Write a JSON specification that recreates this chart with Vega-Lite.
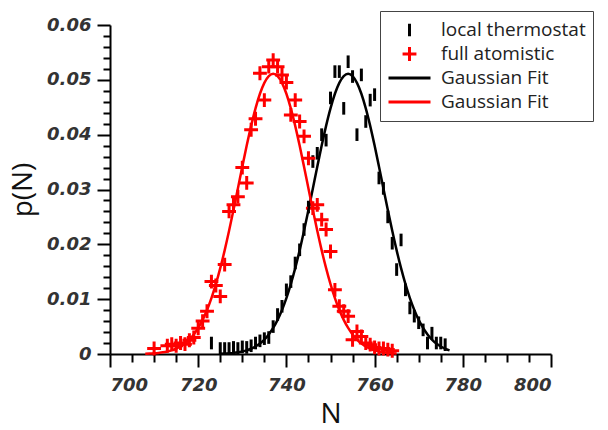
{
  "$schema": "https://vega.github.io/schema/vega-lite/v6.json",
  "width": 441,
  "height": 329,
  "autosize": {"type": "none"},
  "padding": {"left": 110, "top": 25, "right": 57, "bottom": 76},
  "background": "white",
  "config": {
    "view": {"stroke": null},
    "axis": {"grid": false, "domainColor": "black", "domainWidth": 2, "tickColor": "black", "tickWidth": 2, "labelFont": "DejaVu Sans", "labelFontStyle": "italic", "labelFontWeight": "bold", "labelFontSize": 18, "labelColor": "#333333", "titleFont": "Open Sans", "titleFontWeight": "normal", "titleFontSize": 28, "titleColor": "#111111"},
    "legend": {"orient": "none", "legendX": 270, "legendY": -14, "padding": 7, "strokeColor": "#444444", "fillColor": "white", "symbolSize": 1764, "symbolStrokeWidth": 3, "symbolOffset": 0, "labelOffset": 9, "rowPadding": 0, "clipHeight": 24, "labelFont": "Open Sans", "labelFontSize": 19, "labelColor": "#222222", "title": null}
  },
  "datasets": {
    "pts": [
      {"N": 723, "p": 0.0020, "series": "local thermostat"},
      {"N": 725, "p": 0.0010, "series": "local thermostat"},
      {"N": 726, "p": 0.0010, "series": "local thermostat"},
      {"N": 727, "p": 0.0010, "series": "local thermostat"},
      {"N": 728, "p": 0.0012, "series": "local thermostat"},
      {"N": 729, "p": 0.0010, "series": "local thermostat"},
      {"N": 730, "p": 0.0013, "series": "local thermostat"},
      {"N": 731, "p": 0.0012, "series": "local thermostat"},
      {"N": 732, "p": 0.0015, "series": "local thermostat"},
      {"N": 733, "p": 0.0020, "series": "local thermostat"},
      {"N": 734, "p": 0.0024, "series": "local thermostat"},
      {"N": 735, "p": 0.0028, "series": "local thermostat"},
      {"N": 736, "p": 0.0030, "series": "local thermostat"},
      {"N": 737, "p": 0.0050, "series": "local thermostat"},
      {"N": 738, "p": 0.0072, "series": "local thermostat"},
      {"N": 739, "p": 0.0087, "series": "local thermostat"},
      {"N": 740, "p": 0.0117, "series": "local thermostat"},
      {"N": 741, "p": 0.0132, "series": "local thermostat"},
      {"N": 742, "p": 0.0166, "series": "local thermostat"},
      {"N": 743, "p": 0.0190, "series": "local thermostat"},
      {"N": 744, "p": 0.0227, "series": "local thermostat"},
      {"N": 745, "p": 0.0268, "series": "local thermostat"},
      {"N": 746, "p": 0.0351, "series": "local thermostat"},
      {"N": 747, "p": 0.0366, "series": "local thermostat"},
      {"N": 748, "p": 0.0400, "series": "local thermostat"},
      {"N": 749, "p": 0.0390, "series": "local thermostat"},
      {"N": 750, "p": 0.0467, "series": "local thermostat"},
      {"N": 751, "p": 0.0515, "series": "local thermostat"},
      {"N": 752, "p": 0.0515, "series": "local thermostat"},
      {"N": 753, "p": 0.0448, "series": "local thermostat"},
      {"N": 754, "p": 0.0533, "series": "local thermostat"},
      {"N": 755, "p": 0.0506, "series": "local thermostat"},
      {"N": 756, "p": 0.0400, "series": "local thermostat"},
      {"N": 757, "p": 0.0509, "series": "local thermostat"},
      {"N": 758, "p": 0.0424, "series": "local thermostat"},
      {"N": 759, "p": 0.0463, "series": "local thermostat"},
      {"N": 760, "p": 0.0473, "series": "local thermostat"},
      {"N": 761, "p": 0.0321, "series": "local thermostat"},
      {"N": 762, "p": 0.0302, "series": "local thermostat"},
      {"N": 763, "p": 0.0250, "series": "local thermostat"},
      {"N": 764, "p": 0.0202, "series": "local thermostat"},
      {"N": 765, "p": 0.0154, "series": "local thermostat"},
      {"N": 766, "p": 0.0208, "series": "local thermostat"},
      {"N": 767, "p": 0.0117, "series": "local thermostat"},
      {"N": 768, "p": 0.0084, "series": "local thermostat"},
      {"N": 769, "p": 0.0069, "series": "local thermostat"},
      {"N": 770, "p": 0.0057, "series": "local thermostat"},
      {"N": 771, "p": 0.0044, "series": "local thermostat"},
      {"N": 772, "p": 0.0020, "series": "local thermostat"},
      {"N": 773, "p": 0.0038, "series": "local thermostat"},
      {"N": 774, "p": 0.0020, "series": "local thermostat"},
      {"N": 775, "p": 0.0020, "series": "local thermostat"},
      {"N": 776, "p": 0.0017, "series": "local thermostat"},
      {"N": 710, "p": 0.0010, "series": "full atomistic"},
      {"N": 713, "p": 0.0015, "series": "full atomistic"},
      {"N": 714, "p": 0.0018, "series": "full atomistic"},
      {"N": 715, "p": 0.0015, "series": "full atomistic"},
      {"N": 716, "p": 0.0020, "series": "full atomistic"},
      {"N": 717, "p": 0.0018, "series": "full atomistic"},
      {"N": 718, "p": 0.0025, "series": "full atomistic"},
      {"N": 719, "p": 0.0030, "series": "full atomistic"},
      {"N": 720, "p": 0.0047, "series": "full atomistic"},
      {"N": 721, "p": 0.0060, "series": "full atomistic"},
      {"N": 722, "p": 0.0078, "series": "full atomistic"},
      {"N": 723, "p": 0.0132, "series": "full atomistic"},
      {"N": 724, "p": 0.0125, "series": "full atomistic"},
      {"N": 725, "p": 0.0105, "series": "full atomistic"},
      {"N": 726, "p": 0.0163, "series": "full atomistic"},
      {"N": 727, "p": 0.0260, "series": "full atomistic"},
      {"N": 728, "p": 0.0272, "series": "full atomistic"},
      {"N": 729, "p": 0.0287, "series": "full atomistic"},
      {"N": 730, "p": 0.0340, "series": "full atomistic"},
      {"N": 731, "p": 0.0312, "series": "full atomistic"},
      {"N": 732, "p": 0.0409, "series": "full atomistic"},
      {"N": 733, "p": 0.0429, "series": "full atomistic"},
      {"N": 734, "p": 0.0512, "series": "full atomistic"},
      {"N": 735, "p": 0.0463, "series": "full atomistic"},
      {"N": 736, "p": 0.0524, "series": "full atomistic"},
      {"N": 737, "p": 0.0536, "series": "full atomistic"},
      {"N": 738, "p": 0.0524, "series": "full atomistic"},
      {"N": 739, "p": 0.0509, "series": "full atomistic"},
      {"N": 740, "p": 0.0495, "series": "full atomistic"},
      {"N": 741, "p": 0.0436, "series": "full atomistic"},
      {"N": 742, "p": 0.0463, "series": "full atomistic"},
      {"N": 743, "p": 0.0424, "series": "full atomistic"},
      {"N": 744, "p": 0.0397, "series": "full atomistic"},
      {"N": 745, "p": 0.0357, "series": "full atomistic"},
      {"N": 746, "p": 0.0266, "series": "full atomistic"},
      {"N": 747, "p": 0.0272, "series": "full atomistic"},
      {"N": 748, "p": 0.0245, "series": "full atomistic"},
      {"N": 749, "p": 0.0227, "series": "full atomistic"},
      {"N": 750, "p": 0.0187, "series": "full atomistic"},
      {"N": 751, "p": 0.0117, "series": "full atomistic"},
      {"N": 752, "p": 0.0087, "series": "full atomistic"},
      {"N": 753, "p": 0.0078, "series": "full atomistic"},
      {"N": 754, "p": 0.0069, "series": "full atomistic"},
      {"N": 755, "p": 0.0026, "series": "full atomistic"},
      {"N": 756, "p": 0.0041, "series": "full atomistic"},
      {"N": 757, "p": 0.0032, "series": "full atomistic"},
      {"N": 758, "p": 0.0020, "series": "full atomistic"},
      {"N": 759, "p": 0.0017, "series": "full atomistic"},
      {"N": 760, "p": 0.0012, "series": "full atomistic"},
      {"N": 761, "p": 0.0010, "series": "full atomistic"},
      {"N": 762, "p": 0.0010, "series": "full atomistic"},
      {"N": 763, "p": 0.0008, "series": "full atomistic"},
      {"N": 764, "p": 0.0006, "series": "full atomistic"}
    ],
    "fit": [
      {"N": 725, "p": 0.00005, "series": "Gaussian Fit (local thermostat)"},
      {"N": 726, "p": 0.00008, "series": "Gaussian Fit (local thermostat)"},
      {"N": 727, "p": 0.00013, "series": "Gaussian Fit (local thermostat)"},
      {"N": 728, "p": 0.00020, "series": "Gaussian Fit (local thermostat)"},
      {"N": 729, "p": 0.00030, "series": "Gaussian Fit (local thermostat)"},
      {"N": 730, "p": 0.00045, "series": "Gaussian Fit (local thermostat)"},
      {"N": 731, "p": 0.00066, "series": "Gaussian Fit (local thermostat)"},
      {"N": 732, "p": 0.00096, "series": "Gaussian Fit (local thermostat)"},
      {"N": 733, "p": 0.00136, "series": "Gaussian Fit (local thermostat)"},
      {"N": 734, "p": 0.00191, "series": "Gaussian Fit (local thermostat)"},
      {"N": 735, "p": 0.00263, "series": "Gaussian Fit (local thermostat)"},
      {"N": 736, "p": 0.00357, "series": "Gaussian Fit (local thermostat)"},
      {"N": 737, "p": 0.00475, "series": "Gaussian Fit (local thermostat)"},
      {"N": 738, "p": 0.00623, "series": "Gaussian Fit (local thermostat)"},
      {"N": 739, "p": 0.00804, "series": "Gaussian Fit (local thermostat)"},
      {"N": 740, "p": 0.01020, "series": "Gaussian Fit (local thermostat)"},
      {"N": 741, "p": 0.01274, "series": "Gaussian Fit (local thermostat)"},
      {"N": 742, "p": 0.01565, "series": "Gaussian Fit (local thermostat)"},
      {"N": 743, "p": 0.01890, "series": "Gaussian Fit (local thermostat)"},
      {"N": 744, "p": 0.02246, "series": "Gaussian Fit (local thermostat)"},
      {"N": 745, "p": 0.02626, "series": "Gaussian Fit (local thermostat)"},
      {"N": 746, "p": 0.03020, "series": "Gaussian Fit (local thermostat)"},
      {"N": 747, "p": 0.03416, "series": "Gaussian Fit (local thermostat)"},
      {"N": 748, "p": 0.03801, "series": "Gaussian Fit (local thermostat)"},
      {"N": 749, "p": 0.04161, "series": "Gaussian Fit (local thermostat)"},
      {"N": 750, "p": 0.04480, "series": "Gaussian Fit (local thermostat)"},
      {"N": 751, "p": 0.04746, "series": "Gaussian Fit (local thermostat)"},
      {"N": 752, "p": 0.04945, "series": "Gaussian Fit (local thermostat)"},
      {"N": 753, "p": 0.05068, "series": "Gaussian Fit (local thermostat)"},
      {"N": 754, "p": 0.05110, "series": "Gaussian Fit (local thermostat)"},
      {"N": 755, "p": 0.05068, "series": "Gaussian Fit (local thermostat)"},
      {"N": 756, "p": 0.04945, "series": "Gaussian Fit (local thermostat)"},
      {"N": 757, "p": 0.04746, "series": "Gaussian Fit (local thermostat)"},
      {"N": 758, "p": 0.04480, "series": "Gaussian Fit (local thermostat)"},
      {"N": 759, "p": 0.04161, "series": "Gaussian Fit (local thermostat)"},
      {"N": 760, "p": 0.03801, "series": "Gaussian Fit (local thermostat)"},
      {"N": 761, "p": 0.03416, "series": "Gaussian Fit (local thermostat)"},
      {"N": 762, "p": 0.03020, "series": "Gaussian Fit (local thermostat)"},
      {"N": 763, "p": 0.02626, "series": "Gaussian Fit (local thermostat)"},
      {"N": 764, "p": 0.02246, "series": "Gaussian Fit (local thermostat)"},
      {"N": 765, "p": 0.01890, "series": "Gaussian Fit (local thermostat)"},
      {"N": 766, "p": 0.01565, "series": "Gaussian Fit (local thermostat)"},
      {"N": 767, "p": 0.01274, "series": "Gaussian Fit (local thermostat)"},
      {"N": 768, "p": 0.01020, "series": "Gaussian Fit (local thermostat)"},
      {"N": 769, "p": 0.00804, "series": "Gaussian Fit (local thermostat)"},
      {"N": 770, "p": 0.00623, "series": "Gaussian Fit (local thermostat)"},
      {"N": 771, "p": 0.00475, "series": "Gaussian Fit (local thermostat)"},
      {"N": 772, "p": 0.00357, "series": "Gaussian Fit (local thermostat)"},
      {"N": 773, "p": 0.00263, "series": "Gaussian Fit (local thermostat)"},
      {"N": 774, "p": 0.00191, "series": "Gaussian Fit (local thermostat)"},
      {"N": 775, "p": 0.00136, "series": "Gaussian Fit (local thermostat)"},
      {"N": 776, "p": 0.00096, "series": "Gaussian Fit (local thermostat)"},
      {"N": 777, "p": 0.00066, "series": "Gaussian Fit (local thermostat)"},
      {"N": 708, "p": 0.00005, "series": "Gaussian Fit (full atomistic)"},
      {"N": 709, "p": 0.00008, "series": "Gaussian Fit (full atomistic)"},
      {"N": 710, "p": 0.00013, "series": "Gaussian Fit (full atomistic)"},
      {"N": 711, "p": 0.00020, "series": "Gaussian Fit (full atomistic)"},
      {"N": 712, "p": 0.00030, "series": "Gaussian Fit (full atomistic)"},
      {"N": 713, "p": 0.00045, "series": "Gaussian Fit (full atomistic)"},
      {"N": 714, "p": 0.00066, "series": "Gaussian Fit (full atomistic)"},
      {"N": 715, "p": 0.00096, "series": "Gaussian Fit (full atomistic)"},
      {"N": 716, "p": 0.00136, "series": "Gaussian Fit (full atomistic)"},
      {"N": 717, "p": 0.00191, "series": "Gaussian Fit (full atomistic)"},
      {"N": 718, "p": 0.00263, "series": "Gaussian Fit (full atomistic)"},
      {"N": 719, "p": 0.00357, "series": "Gaussian Fit (full atomistic)"},
      {"N": 720, "p": 0.00475, "series": "Gaussian Fit (full atomistic)"},
      {"N": 721, "p": 0.00623, "series": "Gaussian Fit (full atomistic)"},
      {"N": 722, "p": 0.00804, "series": "Gaussian Fit (full atomistic)"},
      {"N": 723, "p": 0.01020, "series": "Gaussian Fit (full atomistic)"},
      {"N": 724, "p": 0.01274, "series": "Gaussian Fit (full atomistic)"},
      {"N": 725, "p": 0.01565, "series": "Gaussian Fit (full atomistic)"},
      {"N": 726, "p": 0.01890, "series": "Gaussian Fit (full atomistic)"},
      {"N": 727, "p": 0.02246, "series": "Gaussian Fit (full atomistic)"},
      {"N": 728, "p": 0.02626, "series": "Gaussian Fit (full atomistic)"},
      {"N": 729, "p": 0.03020, "series": "Gaussian Fit (full atomistic)"},
      {"N": 730, "p": 0.03416, "series": "Gaussian Fit (full atomistic)"},
      {"N": 731, "p": 0.03801, "series": "Gaussian Fit (full atomistic)"},
      {"N": 732, "p": 0.04161, "series": "Gaussian Fit (full atomistic)"},
      {"N": 733, "p": 0.04480, "series": "Gaussian Fit (full atomistic)"},
      {"N": 734, "p": 0.04746, "series": "Gaussian Fit (full atomistic)"},
      {"N": 735, "p": 0.04945, "series": "Gaussian Fit (full atomistic)"},
      {"N": 736, "p": 0.05068, "series": "Gaussian Fit (full atomistic)"},
      {"N": 737, "p": 0.05110, "series": "Gaussian Fit (full atomistic)"},
      {"N": 738, "p": 0.05068, "series": "Gaussian Fit (full atomistic)"},
      {"N": 739, "p": 0.04945, "series": "Gaussian Fit (full atomistic)"},
      {"N": 740, "p": 0.04746, "series": "Gaussian Fit (full atomistic)"},
      {"N": 741, "p": 0.04480, "series": "Gaussian Fit (full atomistic)"},
      {"N": 742, "p": 0.04161, "series": "Gaussian Fit (full atomistic)"},
      {"N": 743, "p": 0.03801, "series": "Gaussian Fit (full atomistic)"},
      {"N": 744, "p": 0.03416, "series": "Gaussian Fit (full atomistic)"},
      {"N": 745, "p": 0.03020, "series": "Gaussian Fit (full atomistic)"},
      {"N": 746, "p": 0.02626, "series": "Gaussian Fit (full atomistic)"},
      {"N": 747, "p": 0.02246, "series": "Gaussian Fit (full atomistic)"},
      {"N": 748, "p": 0.01890, "series": "Gaussian Fit (full atomistic)"},
      {"N": 749, "p": 0.01565, "series": "Gaussian Fit (full atomistic)"},
      {"N": 750, "p": 0.01274, "series": "Gaussian Fit (full atomistic)"},
      {"N": 751, "p": 0.01020, "series": "Gaussian Fit (full atomistic)"},
      {"N": 752, "p": 0.00804, "series": "Gaussian Fit (full atomistic)"},
      {"N": 753, "p": 0.00623, "series": "Gaussian Fit (full atomistic)"},
      {"N": 754, "p": 0.00475, "series": "Gaussian Fit (full atomistic)"},
      {"N": 755, "p": 0.00357, "series": "Gaussian Fit (full atomistic)"},
      {"N": 756, "p": 0.00263, "series": "Gaussian Fit (full atomistic)"},
      {"N": 757, "p": 0.00191, "series": "Gaussian Fit (full atomistic)"},
      {"N": 758, "p": 0.00136, "series": "Gaussian Fit (full atomistic)"},
      {"N": 759, "p": 0.00096, "series": "Gaussian Fit (full atomistic)"},
      {"N": 760, "p": 0.00066, "series": "Gaussian Fit (full atomistic)"},
      {"N": 761, "p": 0.00045, "series": "Gaussian Fit (full atomistic)"},
      {"N": 762, "p": 0.00030, "series": "Gaussian Fit (full atomistic)"},
      {"N": 763, "p": 0.00020, "series": "Gaussian Fit (full atomistic)"},
      {"N": 764, "p": 0.00013, "series": "Gaussian Fit (full atomistic)"},
      {"N": 765, "p": 0.00008, "series": "Gaussian Fit (full atomistic)"}
    ]
  },
  "layer": [
    {
      "data": {"name": "pts"},
      "mark": {"type": "point", "filled": false, "strokeWidth": 3, "size": 1764, "opacity": 1, "clip": false},
      "encoding": {
        "x": {"field": "N", "type": "quantitative", "scale": {"domain": [700, 800], "nice": false, "zero": false},
          "axis": {"orient": "bottom", "values": [700, 720, 740, 760, 780, 800], "tickSize": 13, "labelPadding": 9, "format": "d", "title": "N", "titlePadding": 6}},
        "y": {"field": "p", "type": "quantitative", "scale": {"domain": [0, 0.06], "nice": false, "zero": true},
          "axis": {"orient": "left", "values": [0, 0.01, 0.02, 0.03, 0.04, 0.05, 0.06], "tickSize": 13, "labelPadding": 6, "labelExpr": "datum.value == 0 ? '0' : format(datum.value, '.2f')", "title": "p(N)", "titlePadding": 9}},
        "color": {"field": "series", "type": "nominal",
          "scale": {"domain": ["local thermostat", "full atomistic", "Gaussian Fit (local thermostat)", "Gaussian Fit (full atomistic)"], "range": ["#000000", "#ff0000", "#000000", "#ff0000"]},
          "legend": {"labelExpr": "substring(datum.label, 0, 8) == 'Gaussian' ? 'Gaussian Fit' : datum.label"}},
        "shape": {"field": "series", "type": "nominal",
          "scale": {"domain": ["local thermostat", "full atomistic", "Gaussian Fit (local thermostat)", "Gaussian Fit (full atomistic)"], "range": ["M0,-0.3L0,0.3", "M-0.33,0L0.33,0M0,-0.33L0,0.33", "M-1,0L1,0", "M-1,0L1,0"]},
          "legend": {"labelExpr": "substring(datum.label, 0, 8) == 'Gaussian' ? 'Gaussian Fit' : datum.label"}}
      }
    },
    {
      "data": {"name": "fit"},
      "mark": {"type": "line", "strokeWidth": 2.5, "interpolate": "monotone"},
      "encoding": {
        "x": {"field": "N", "type": "quantitative",
          "axis": {"orient": "bottom", "values": [705, 710, 715, 725, 730, 735, 745, 750, 755, 765, 770, 775, 785, 790, 795], "tickSize": 8, "labels": false, "domain": false, "title": null}},
        "y": {"field": "p", "type": "quantitative",
          "axis": {"orient": "left", "values": [0.002, 0.004, 0.006, 0.008, 0.012, 0.014, 0.016, 0.018, 0.022, 0.024, 0.026, 0.028, 0.032, 0.034, 0.036, 0.038, 0.042, 0.044, 0.046, 0.048, 0.052, 0.054, 0.056, 0.058], "tickSize": 7, "labels": false, "domain": false, "title": null}},
        "color": {"field": "series", "type": "nominal"},
        "detail": {"field": "series", "type": "nominal"}
      }
    }
  ],
  "resolve": {"axis": {"x": "independent", "y": "independent"}}
}
